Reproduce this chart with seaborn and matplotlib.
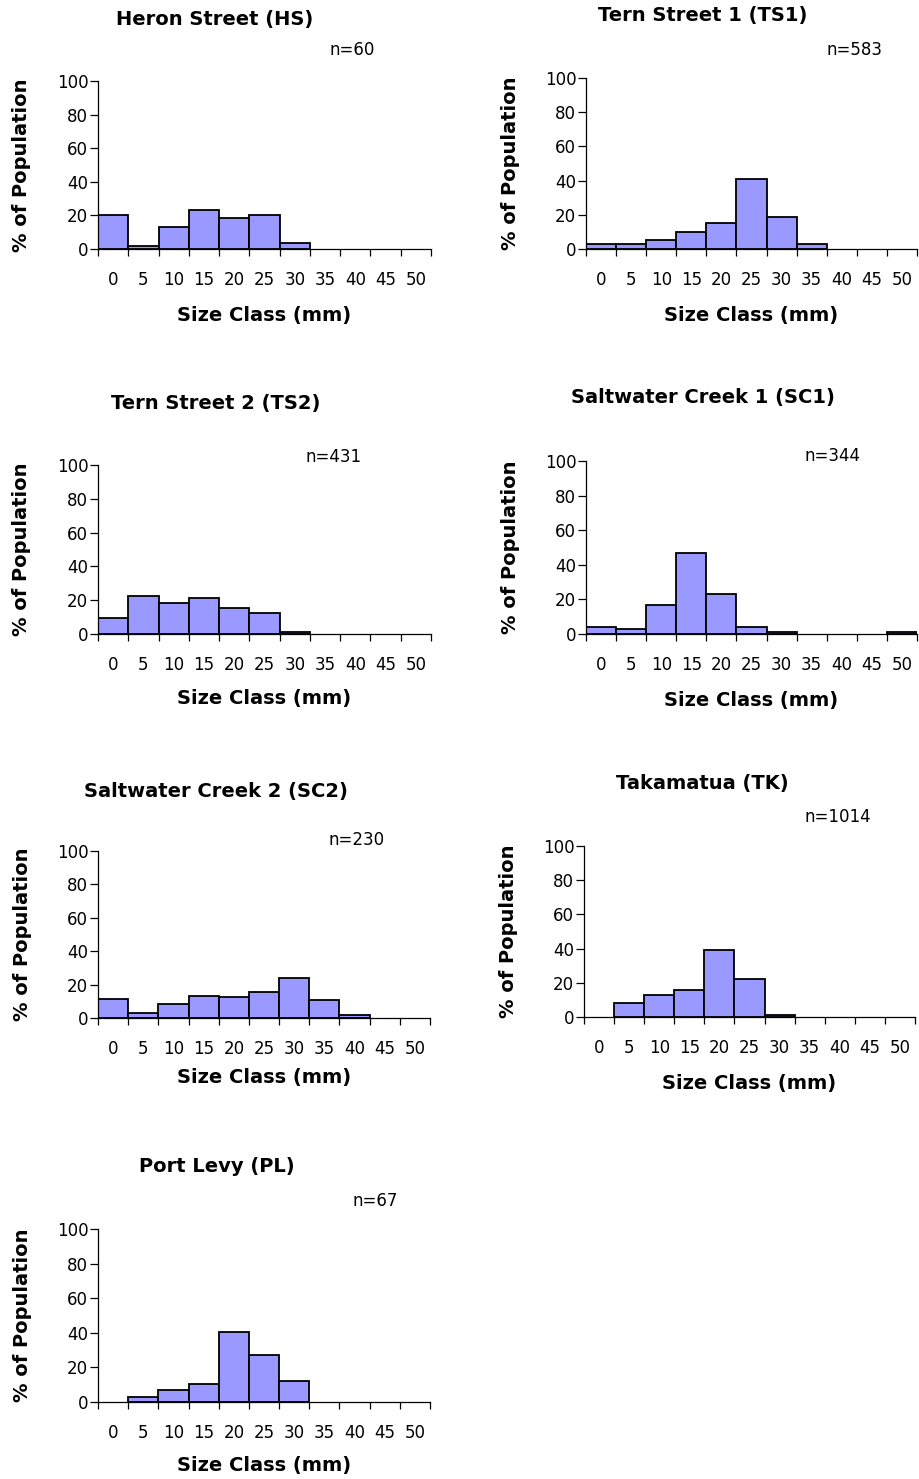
import matplotlib
matplotlib.use("Agg")
import matplotlib.pyplot as plt
import seaborn as sns
import pandas as pd

# Size classes (mm) shared by every site
size_classes = ["0", "5", "10", "15", "20", "25", "30", "35", "40", "45", "50"]

# Percentage of population in each size class, per site
heron_street = [20.0, 1.7, 13.3, 23.3, 18.3, 20.0, 3.3, 0, 0, 0, 0]
tern_street_1 = [3.0, 3.0, 5.0, 10.0, 15.0, 41.0, 19.0, 3.0, 0, 0, 0]
tern_street_2 = [9.3, 22.3, 18.3, 21.3, 15.2, 12.2, 1.0, 0, 0, 0, 0]
saltwater_creek_1 = [4.0, 3.0, 17.0, 47.0, 23.0, 4.0, 1.0, 0, 0, 0, 1.0]
saltwater_creek_2 = [11.4, 3.2, 8.4, 13.4, 12.4, 15.8, 24.0, 10.6, 2.0, 0, 0]
takamatua = [0, 8.0, 13.0, 16.0, 39.4, 22.0, 1.0, 0, 0, 0, 0]
port_levy = [0, 3.0, 7.0, 10.4, 40.3, 26.9, 11.9, 0, 0, 0, 0]

site_titles = ["Heron Street (HS)", "Tern Street 1 (TS1)", "Tern Street 2 (TS2)",
               "Saltwater Creek 1 (SC1)", "Saltwater Creek 2 (SC2)",
               "Takamatua (TK)", "Port Levy (PL)"]
sample_sizes = [60, 583, 431, 344, 230, 1014, 67]
site_values = [heron_street, tern_street_1, tern_street_2, saltwater_creek_1,
               saltwater_creek_2, takamatua, port_levy]

# Layout in pixels: axes box (left, right, top, bottom), title centre, n-label centre,
# x-label offset below the axis
W, H = 919, 1479
axes_px = [(98, 431, 81, 249), (586, 917, 78, 249),
           (98, 431, 465, 634), (586, 917, 461, 634),
           (98, 430, 851, 1018), (584, 915, 846, 1017),
           (98, 430, 1229, 1402)]
title_px = [(215, 19), (703, 15), (216, 403), (703, 398),
            (216, 791), (702, 783), (217, 1167)]
n_px = [(352, 50), (854, 50), (334, 457), (832, 456),
        (357, 840), (838, 817), (375, 1201)]
xlabel_off = [66, 66, 64, 66, 60, 66, 63]

sns.set_style("ticks")
plt.rcParams["font.family"] = ["DejaVu Sans"]
plt.rcParams["text.color"] = "black"
plt.rcParams["axes.labelcolor"] = "black"
plt.rcParams["xtick.color"] = "black"
plt.rcParams["ytick.color"] = "black"
plt.rcParams["xtick.labelcolor"] = "black"
plt.rcParams["ytick.labelcolor"] = "black"

fig = plt.figure(figsize=(W / 100, H / 100), dpi=100)

for i, values in enumerate(site_values):
    l, r, t, b = axes_px[i]
    w, h = r - l, b - t
    ax = fig.add_axes([l / W, 1 - b / H, w / W, h / H])
    df = pd.DataFrame({"size": size_classes, "pct": values})
    sns.barplot(data=df, x="size", y="pct", order=size_classes, ax=ax,
                width=1.0, color="#9999ff", saturation=1,
                edgecolor="black", linewidth=1.3)
    for p in ax.patches:
        if p.get_height() == 0:
            p.set_visible(False)

    ax.set_xlim(-0.5, len(size_classes) - 0.5)
    ax.set_ylim(0, 100)
    ax.set_yticks([0, 20, 40, 60, 80, 100])
    ax.set_xticks(range(len(size_classes)))
    ax.set_xticklabels(size_classes)
    ax.set_xticks([k - 0.5 for k in range(len(size_classes) + 1)], minor=True)
    ax.tick_params(axis="x", which="major", length=0, pad=16, labelsize=12,
                   labelcolor="black")
    ax.tick_params(axis="x", which="minor", length=5, width=0.9, direction="out",
                   color="black")
    ax.tick_params(axis="y", length=6, width=0.9, pad=1, labelsize=12,
                   color="black", labelcolor="black")
    for side in ("top", "right"):
        ax.spines[side].set_visible(False)
    for side in ("left", "bottom"):
        ax.spines[side].set_color("black")
        ax.spines[side].set_linewidth(0.9)

    ax.set_xlabel("Size Class (mm)", fontsize=14, fontweight="bold",
                  color="black")
    ax.xaxis.label.set_va("center")
    ax.xaxis.set_label_coords(0.5, -xlabel_off[i] / h)
    ax.set_ylabel("% of Population", fontsize=14, fontweight="bold",
                  color="black")
    ax.yaxis.label.set_va("center")
    ax.yaxis.set_label_coords(-76 / w, 0.5)

    tx, ty = title_px[i]
    fig.text(tx / W, 1 - ty / H, site_titles[i], ha="center", va="center",
             fontsize=14, fontweight="bold", color="black")
    nx, ny = n_px[i]
    fig.text(nx / W, 1 - ny / H, f"n={sample_sizes[i]}", ha="center",
             va="center", fontsize=12, color="black")

fig.savefig("out.png", dpi=100)
